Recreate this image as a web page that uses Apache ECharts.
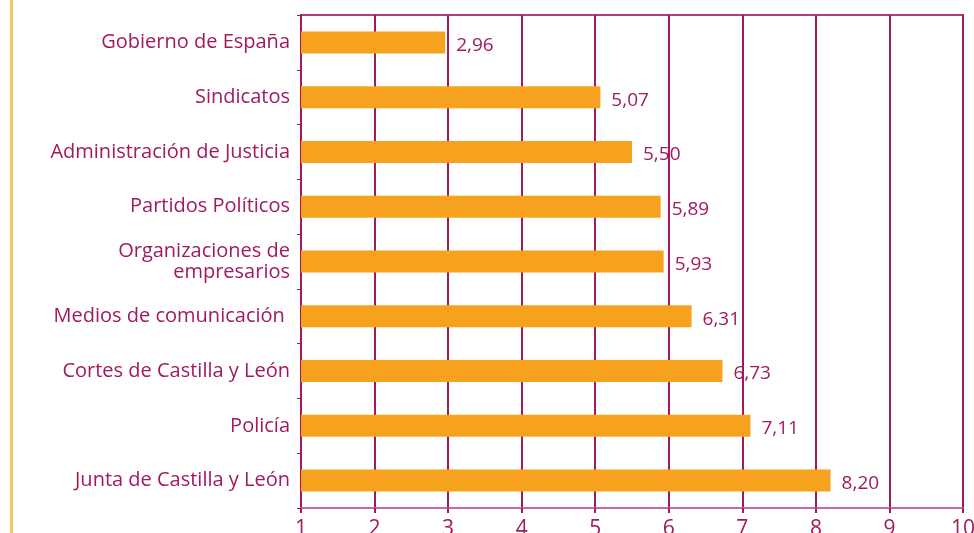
<!DOCTYPE html>
<html>
<head>
<meta charset="utf-8">
<script src="https://cdn.jsdelivr.net/npm/echarts@6/dist/echarts.min.js"></script>
<style>
  html, body { margin: 0; padding: 0; background: #fff; }
  #chart { width: 974px; height: 533px; }
  .edge { position: absolute; left: 10px; top: 0; width: 3px; height: 533px; background: #f9c56a; }
</style>
</head>
<body>
<div class="edge"></div>
<div id="chart"></div>
<script>
const categories = [
  'Gobierno de España',
  'Sindicatos',
  'Administración de Justicia',
  'Partidos Políticos',
  'Organizaciones de\nempresarios',
  'Medios de comunicación ',
  'Cortes de Castilla y León',
  'Policía',
  'Junta de Castilla y León'
]
const values = [2.96, 5.07, 5.50, 5.89, 5.93, 6.31, 6.73, 7.11, 8.20]
const xMin = 1
const xMax = 10

const purple = '#a11a5e'
const font = 'Open Sans'

const myEcharts = echarts.init(document.getElementById('chart'))
myEcharts.setOption({
  animation: false,
  grid: {
    left: 301,
    right: 11,
    top: 15,
    bottom: 25,
    containLabel: false,
    outerBoundsMode: 'none',
    show: true,
    borderColor: '#b23a80',
    borderWidth: 2
  },
  xAxis: {
    type: 'value',
    min: xMin,
    max: xMax,
    interval: 1,
    axisLine: { show: true, lineStyle: { color: '#c56aa0', width: 2 } },
    axisTick: { show: true, length: 5, lineStyle: { color: purple, width: 2 } },
    axisLabel: { color: purple, fontSize: 21, fontFamily: font, margin: 11 },
    splitLine: { show: true, lineStyle: { color: purple, width: 2 } }
  },
  yAxis: {
    type: 'category',
    inverse: true,
    data: categories,
    axisLine: { show: true, lineStyle: { color: purple, width: 2 } },
    axisTick: { show: true, length: 4, lineStyle: { color: purple, width: 1 } },
    axisLabel: { color: purple, fontSize: 20, fontFamily: font, margin: 11, lineHeight: 21 }
  },
  series: [{
    type: 'bar',
    data: values,
    barWidth: 22,
    itemStyle: { color: '#f6a21e' },
    label: {
      show: true,
      position: 'right',
      distance: 11,
      offset: [0, 3],
      color: purple,
      fontSize: 19,
      fontFamily: font,
      formatter: (p) => p.value.toFixed(2).replace('.', ',')
    }
  }]
})
</script>
</body>
</html>
